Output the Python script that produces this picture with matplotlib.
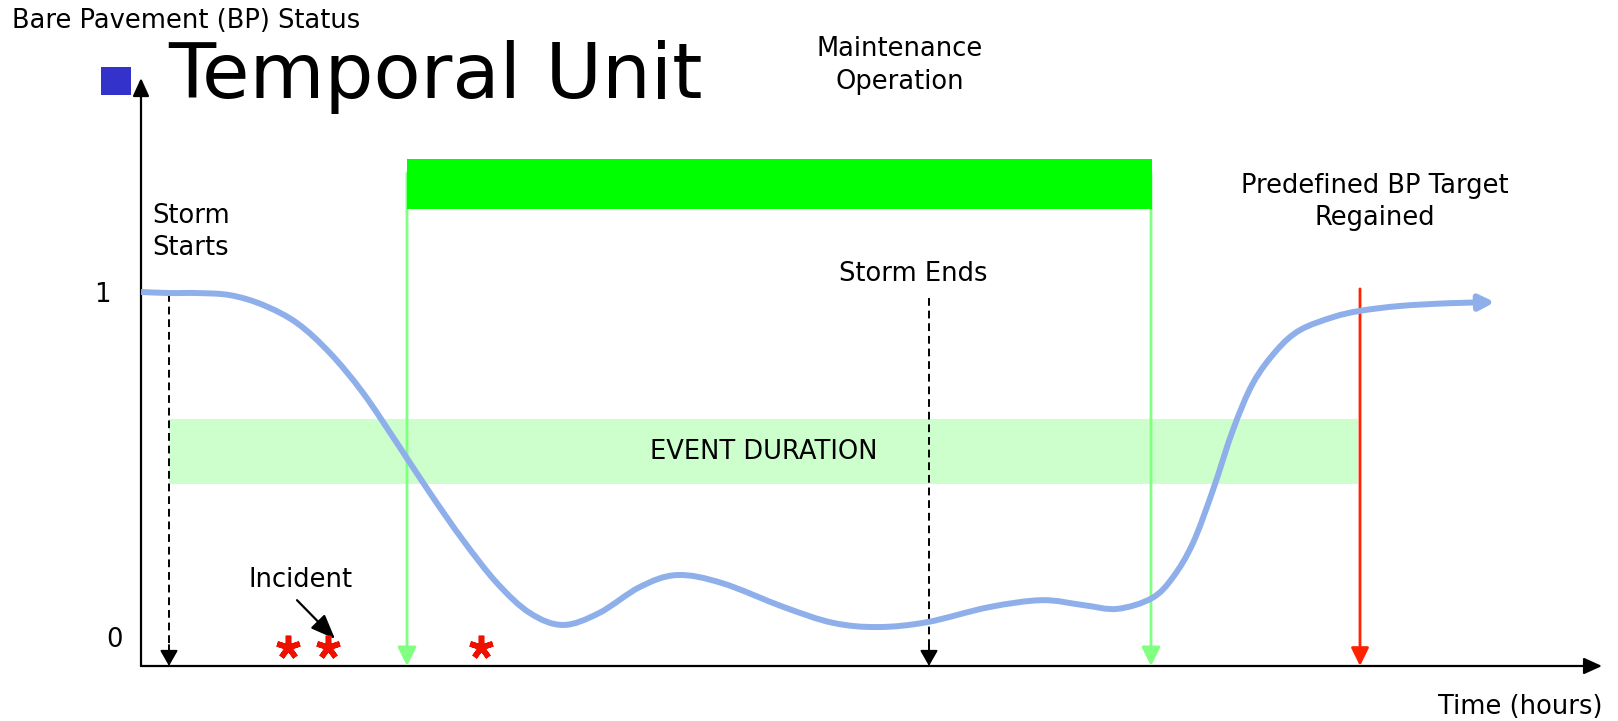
import numpy as np
import matplotlib
matplotlib.use("Agg")
import matplotlib.pyplot as plt
from matplotlib.path import Path
from matplotlib.patches import Rectangle, FancyArrowPatch

# bare pavement curve (time in hours, BP status 0..1)
curve_t = [0.0, 0.29, 0.56, 0.89, 1.22, 1.56, 1.89, 2.22, 2.56, 2.89, 3.22, 3.56, 3.89,
           4.22, 4.58, 4.99, 5.36, 5.81, 6.43, 6.92, 7.37, 7.86, 8.48, 9.01, 9.42, 9.76,
           10.11, 10.32, 10.52, 10.72, 10.92, 11.12, 11.36, 11.59, 11.92, 12.19, 12.59,
           13.09, 13.54]
curve_bp = [1.0, 0.997, 0.997, 0.991, 0.963, 0.911, 0.825, 0.711, 0.567, 0.424, 0.289,
            0.166, 0.080, 0.046, 0.080, 0.155, 0.189, 0.166, 0.097, 0.052, 0.040, 0.054,
            0.097, 0.117, 0.103, 0.092, 0.123, 0.183, 0.281, 0.433, 0.605, 0.739, 0.834,
            0.891, 0.928, 0.946, 0.960, 0.968, 0.971]

storm_start = 0.28
storm_end = 7.88
maint_start = 2.66
maint_end = 10.10
target_time = 12.19
incident_times = [1.47, 1.87, 3.40]
event_band = (0.28, 12.17, 0.450, 0.636)   # t0, t1, bp0, bp1
maint_bar = (2.66, 10.11, 1.238, 1.381)
axis_base = -0.0716
t_max = 14.61
bp_max = 1.613

fig = plt.figure(figsize=(16.18, 7.21), dpi=100)
ax = fig.add_axes([0, 0, 1, 1])
ax.set_xlim(-1.41, 14.77)
ax.set_ylim(-0.2292, 1.8367)
ax.axis('off')

FS = 18.5

def head(x0, y0, x1, y1, color, hl=1.0, hw=0.54, lw=1.5):
    ax.annotate('', xy=(x1, y1), xytext=(x0, y0),
                arrowprops=dict(arrowstyle=f'-|>,head_length={hl},head_width={hw}',
                                color=color, lw=lw, shrinkA=0, shrinkB=0))

# event duration band
ax.add_patch(Rectangle((event_band[0], event_band[2]), event_band[1] - event_band[0],
                       event_band[3] - event_band[2], color='#CCFFCC', lw=0, zorder=1))
ax.text((event_band[0] + event_band[1]) / 2, (event_band[2] + event_band[3]) / 2,
        'EVENT DURATION', ha='center', va='center', fontsize=FS, zorder=5)

# axes
head(0, axis_base, t_max, axis_base, 'black', hl=1.1, hw=0.5, lw=1.6)
head(0, axis_base, 0, bp_max, 'black', hl=1.1, hw=0.5, lw=1.6)

# storm start / end dashed arrows
for t, top in [(storm_start, 0.995), (storm_end, 0.983)]:
    ax.plot([t, t], [top, axis_base + 0.04], color='black', lw=1.4,
            linestyle=(0, (4, 2.5)), zorder=3)
    head(t, axis_base + 0.06, t, axis_base, 'black', hl=0.95, hw=0.54, lw=1.4)

# maintenance operation arrows and bar
for t in [maint_start, maint_end]:
    head(t, 1.341, t, axis_base, '#80FF80', hl=1.15, hw=0.57, lw=2.0)
ax.add_patch(Rectangle((maint_bar[0], maint_bar[2]), maint_bar[1] - maint_bar[0],
                       maint_bar[3] - maint_bar[2], color='#00FF00', lw=0, zorder=4))

# target regained
head(target_time, 1.009, target_time, axis_base, '#FF2200', hl=1.1, hw=0.54, lw=2.0)

# bare pavement curve (Catmull-Rom through the read points)
P = np.column_stack([curve_t, curve_bp])
n = len(P)
verts = [P[0]]
codes = [Path.MOVETO]
for i in range(n - 1):
    p0 = P[max(i - 1, 0)]
    p1 = P[i]
    p2 = P[i + 1]
    p3 = P[min(i + 2, n - 1)]
    verts += [p1 + (p2 - p0) / 6, p2 - (p3 - p1) / 6, p2]
    codes += [Path.CURVE4] * 3
arrow = FancyArrowPatch(path=Path(verts, codes),
                        arrowstyle='-|>,head_length=0.9,head_width=0.45',
                        mutation_scale=10, color='#8FAFEB', lw=4.3,
                        capstyle='butt', zorder=6)
ax.add_patch(arrow)

# incidents
ax.plot(incident_times, [-0.017] * len(incident_times), ls='none', marker=(5, 2, 0),
        ms=17, mew=4.0, color='#EE1100', zorder=6)
ax.annotate('', xy=(1.94, 0.006), xytext=(1.56, 0.117),
            arrowprops=dict(arrowstyle='-|>,head_length=1.5,head_width=0.6',
                            color='black', lw=1.6, shrinkA=0, shrinkB=0))
ax.text(1.60, 0.175, 'Incident', ha='center', va='center', fontsize=FS)

# labels
ax.text(-1.29, 1.777, 'Bare Pavement (BP) Status', ha='left', va='center', fontsize=FS)
ax.add_patch(Rectangle((-0.40, 1.564), 0.30, 0.081, color='#3333CC', lw=0))
ax.text(0.27, 1.556, 'Temporal Unit', ha='left', va='baseline', fontsize=55.5)
ax.text(7.59, 1.649, 'Maintenance\nOperation', ha='center', va='center',
        fontsize=FS, linespacing=1.35)
ax.text(0.11, 1.173, 'Storm\nStarts', ha='left', va='center', fontsize=FS, linespacing=1.3)
ax.text(12.34, 1.258, 'Predefined BP Target\nRegained', ha='center', va='center',
        fontsize=FS, linespacing=1.3)
ax.text(7.72, 1.052, 'Storm Ends', ha='center', va='center', fontsize=FS)
ax.text(-0.39, 0.991, '1', ha='center', va='center', fontsize=FS)
ax.text(-0.27, 0.003, '0', ha='center', va='center', fontsize=FS)
ax.text(14.62, -0.189, 'Time (hours)', ha='right', va='center', fontsize=FS)

fig.savefig('out.png', dpi=100, facecolor='white')
